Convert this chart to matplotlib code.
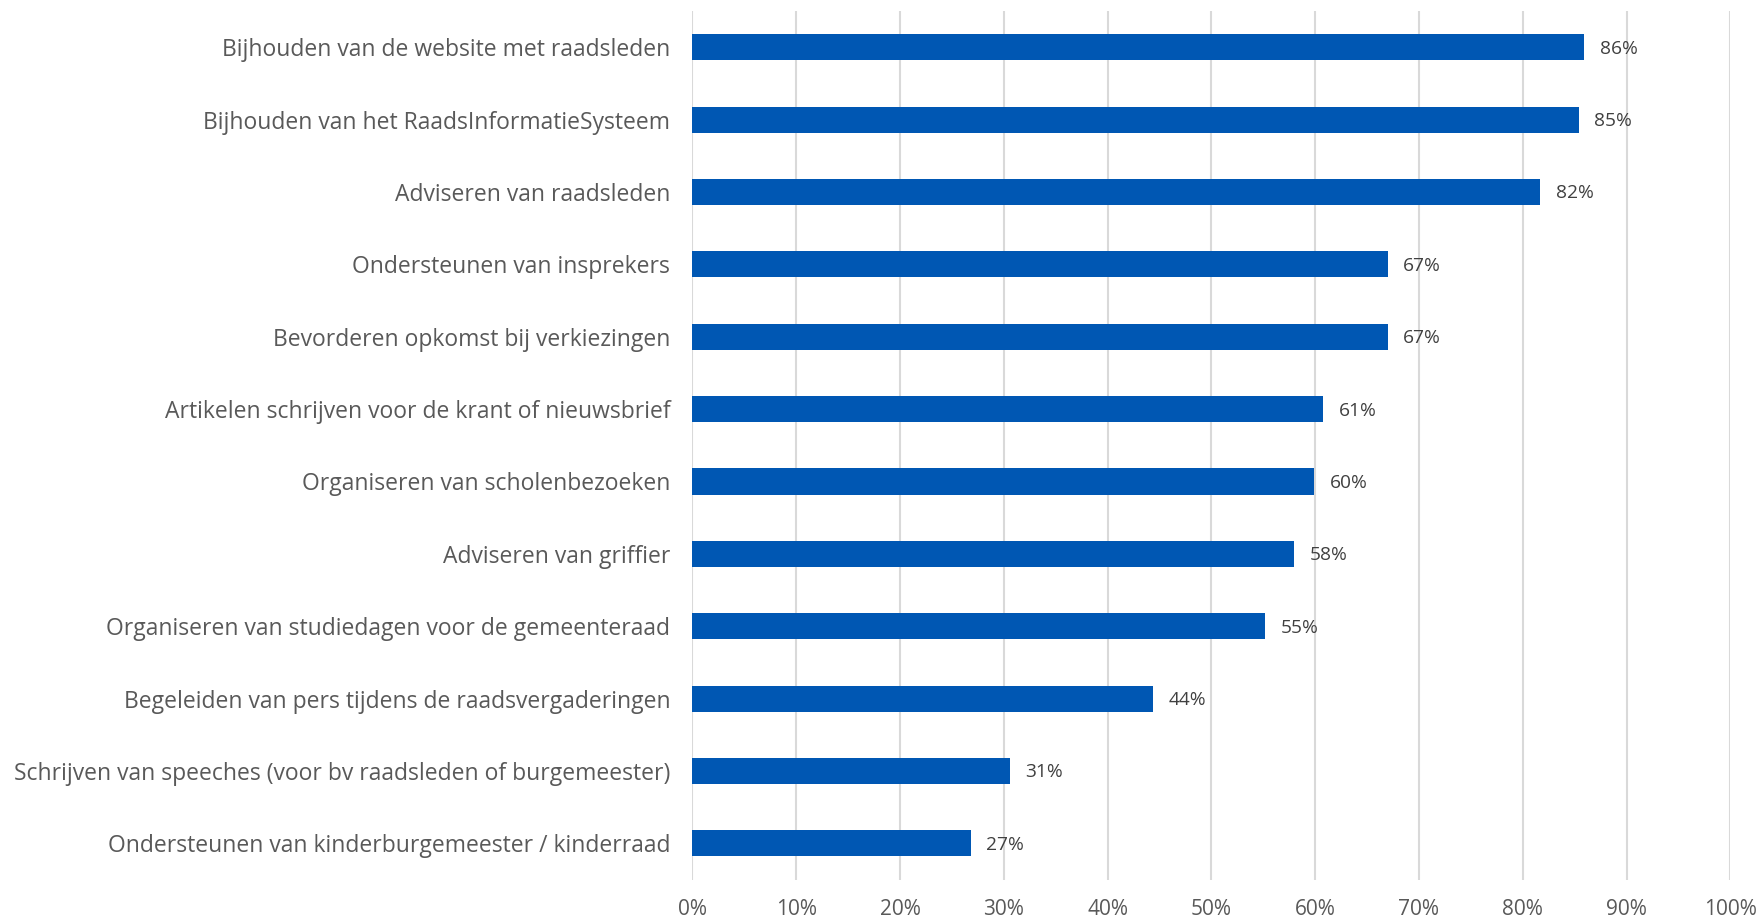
import matplotlib.pyplot as plt
from matplotlib.ticker import PercentFormatter

categories = [
    "Bijhouden van de website met raadsleden",
    "Bijhouden van het RaadsInformatieSysteem",
    "Adviseren van raadsleden",
    "Ondersteunen van insprekers",
    "Bevorderen opkomst bij verkiezingen",
    "Artikelen schrijven voor de krant of nieuwsbrief",
    "Organiseren van scholenbezoeken",
    "Adviseren van griffier",
    "Organiseren van studiedagen voor de gemeenteraad",
    "Begeleiden van pers tijdens de raadsvergaderingen",
    "Schrijven van speeches (voor bv raadsleden of burgemeester)",
    "Ondersteunen van kinderburgemeester / kinderraad",
]
values = [85.9, 85.4, 81.7, 67.0, 67.0, 60.8, 59.9, 58.0, 55.2, 44.4, 30.6, 26.8]

plt.rcParams['font.family'] = ['Open Sans', 'DejaVu Sans']

fig = plt.figure(figsize=(17.62, 9.21), dpi=100)
ax = fig.add_axes([0.393, 0.045, 0.589, 0.943])

y = list(range(len(categories)))
ax.barh(y, values, height=0.36, color='#0057B3', zorder=3)
for yi, v in zip(y, values):
    ax.text(v + 1.5, yi + 0.02, f"{round(v)}%", va='center', ha='left',
            fontsize=13.8, color='#404040')

ax.set_yticks(y)
ax.set_yticklabels(categories, fontsize=16.5, color='#595959')
ax.set_ylim(len(categories) - 0.5, -0.5)
ax.set_xlim(0, 100)
ax.set_xticks(range(0, 101, 10))
ax.xaxis.set_major_formatter(PercentFormatter(decimals=0))
ax.tick_params(axis='x', labelsize=15, labelcolor='#595959', length=0, pad=14)
ax.tick_params(axis='y', length=0, pad=16)
ax.grid(axis='x', color='#D9D9D9', linewidth=1.5, zorder=0)
for s in ax.spines.values():
    s.set_visible(False)

fig.savefig('out.png', dpi=100)
